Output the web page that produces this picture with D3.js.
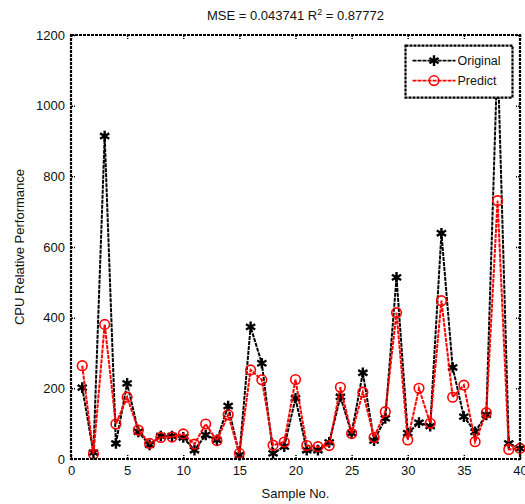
<!DOCTYPE html>
<html>
<head>
<meta charset="utf-8">
<script src="https://cdn.jsdelivr.net/npm/d3@7"></script>
<style>
  body { margin: 0; background: #fff; }
  svg { font-family: "Liberation Sans", Arial, sans-serif; }
</style>
</head>
<body>
<div id="chart"></div>
<script>
// values
var samples = d3.range(1, 41);
var original = [202, 18, 914, 44, 214, 77, 40, 65, 65, 61,
                25, 68, 54, 150, 11, 374, 271, 16, 35, 172,
                25, 25, 47, 176, 73, 244, 52, 115, 514, 73,
                103, 93, 639, 259, 120, 77, 125, 1150, 44, 30];
var predict = [264, 14, 381, 99, 175, 82, 44, 61, 62, 71,
               42, 99, 52, 125, 16, 252, 224, 39, 48, 225,
               38, 35, 38, 203, 72, 189, 61, 134, 414, 54,
               200, 101, 448, 175, 209, 49, 131, 731, 27, 30];
var xTicks = [0, 5, 10, 15, 20, 25, 30, 35, 40];
var yTicks = [0, 200, 400, 600, 800, 1000, 1200];
var title = "MSE = 0.043741 R";
var seriesNames = ["Original", "Predict"];

var W = 525, H = 504;
var margin = { top: 35, right: 5, bottom: 45, left: 71 };
var width = 449, height = 424;

var svg = d3.select("#chart").append("svg")
    .attr("width", W)
    .attr("height", H);

var g = svg.append("g")
    .attr("transform", `translate(${margin.left},${margin.top})`);

var x = d3.scaleLinear().domain([0, 40]).range([0, width]);
var y = d3.scaleLinear().domain([0, 1200]).range([height, 0]);

var dash = "4,1";

// ticks on all four sides, pointing in
g.append("g")
    .attr("transform", `translate(0,${height})`)
    .call(d3.axisBottom(x).tickValues(xTicks).tickSizeInner(-4).tickSizeOuter(0).tickPadding(7))
    .call(a => a.select(".domain").remove());
g.append("g")
    .call(d3.axisTop(x).tickValues(xTicks).tickSizeInner(-4).tickSizeOuter(0).tickFormat(""))
    .call(a => a.select(".domain").remove());
g.append("g")
    .call(d3.axisLeft(y).tickValues(yTicks).tickFormat(d3.format("d")).tickSizeInner(-4).tickSizeOuter(0).tickPadding(6))
    .call(a => a.select(".domain").remove());
g.append("g")
    .attr("transform", `translate(${width},0)`)
    .call(d3.axisRight(y).tickValues(yTicks).tickSizeInner(-4).tickSizeOuter(0).tickFormat(""))
    .call(a => a.select(".domain").remove());

g.selectAll(".tick line")
    .attr("stroke", "#000")
    .attr("stroke-width", 1.5)
    .attr("stroke-dasharray", "2,1");
g.selectAll(".tick text")
    .attr("fill", "#111")
    .style("font-size", "13px")
    .style("font-family", "Liberation Sans, Arial, sans-serif");

// series
var line = d3.line()
    .x((d, i) => x(samples[i]))
    .y(d => y(d));

g.append("path")
    .datum(original)
    .attr("fill", "none")
    .attr("stroke", "#000")
    .attr("stroke-width", 2)
    .attr("stroke-dasharray", dash)
    .attr("d", line);

var star = d3.symbol().type(d3.symbolAsterisk).size(80);

g.selectAll(".orig")
    .data(original)
    .join("path")
    .attr("class", "orig")
    .attr("transform", (d, i) => `translate(${x(samples[i])},${y(d)})`)
    .attr("d", star)
    .attr("fill", "none")
    .attr("stroke", "#000")
    .attr("stroke-width", 2.4);

g.append("path")
    .datum(predict)
    .attr("fill", "none")
    .attr("stroke", "#f00")
    .attr("stroke-width", 2)
    .attr("stroke-dasharray", dash)
    .attr("d", line);

g.selectAll(".pred")
    .data(predict)
    .join("circle")
    .attr("class", "pred")
    .attr("cx", (d, i) => x(samples[i]))
    .attr("cy", d => y(d))
    .attr("r", 4.8)
    .attr("fill", "none")
    .attr("stroke", "#f00")
    .attr("stroke-width", 1.6);

// axes box
g.append("rect")
    .attr("width", width)
    .attr("height", height)
    .attr("fill", "none")
    .attr("stroke", "#000")
    .attr("stroke-width", 2.2)
    .attr("stroke-dasharray", "3,1");

// legend
var leg = g.append("g").attr("transform", `translate(${x(29.8)},${y(1170)})`);
leg.append("rect")
    .attr("width", 107)
    .attr("height", 52)
    .attr("fill", "#fff")
    .attr("stroke", "#000")
    .attr("stroke-width", 2.2)
    .attr("stroke-dasharray", "3,1");

var legItems = leg.selectAll(".item")
    .data(seriesNames)
    .join("g")
    .attr("class", "item")
    .attr("transform", (d, i) => `translate(0,${15 + i * 20})`);

legItems.append("line")
    .attr("x1", 7).attr("x2", 50)
    .attr("stroke", (d, i) => i ? "#f00" : "#000")
    .attr("stroke-width", 1.6)
    .attr("stroke-dasharray", dash);

legItems.filter((d, i) => i === 0).append("path")
    .attr("transform", "translate(28.5,0)")
    .attr("d", star)
    .attr("fill", "none")
    .attr("stroke", "#000")
    .attr("stroke-width", 2.4);

legItems.filter((d, i) => i === 1).append("circle")
    .attr("cx", 28.5)
    .attr("r", 4.8)
    .attr("fill", "none")
    .attr("stroke", "#f00")
    .attr("stroke-width", 1.6);

legItems.append("text")
    .attr("x", 52)
    .attr("dy", "0.35em")
    .style("font-size", "12.5px")
    .attr("fill", "#111")
    .text(d => d);

// title
var t = svg.append("text")
    .attr("x", margin.left + width / 2)
    .attr("y", 20)
    .attr("text-anchor", "middle")
    .style("font-size", "13px")
    .attr("fill", "#111");
t.append("tspan").text(title);
t.append("tspan").attr("dy", -5).style("font-size", "9px").text("2");
t.append("tspan").attr("dy", 5).text(" = 0.87772");

// axis labels
svg.append("text")
    .attr("x", margin.left + width / 2)
    .attr("y", 498)
    .attr("text-anchor", "middle")
    .style("font-size", "13px")
    .attr("fill", "#111")
    .text("Sample No.");

svg.append("text")
    .attr("transform", `translate(24,${margin.top + height / 2}) rotate(-90)`)
    .attr("text-anchor", "middle")
    .style("font-size", "13px")
    .attr("fill", "#111")
    .text("CPU Relative Performance");
</script>
</body>
</html>
